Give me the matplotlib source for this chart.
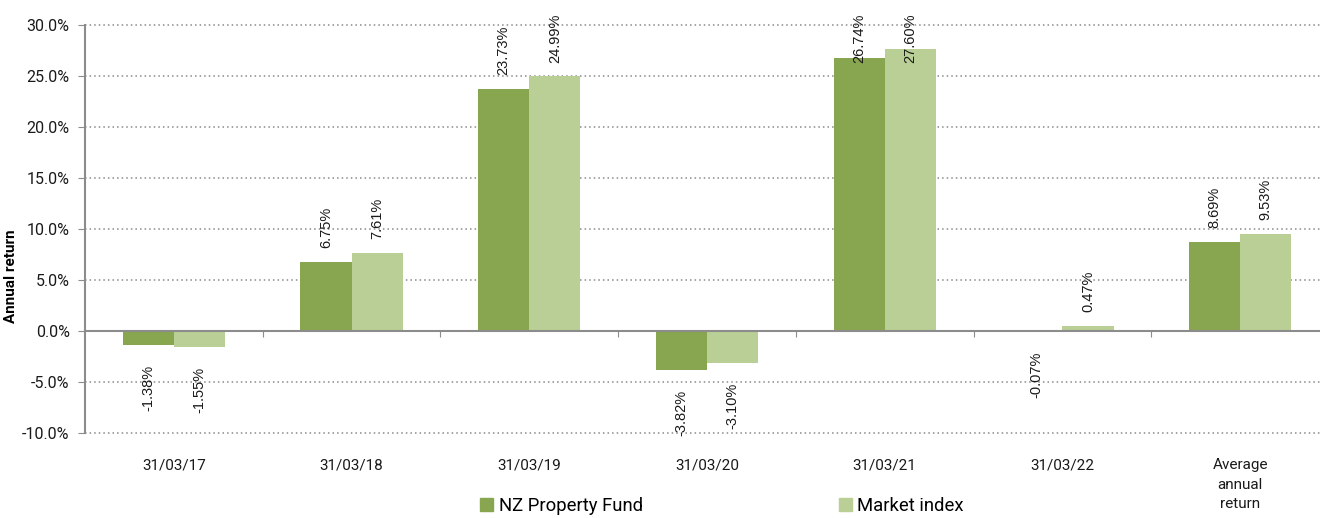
import numpy as np
import matplotlib.pyplot as plt
from matplotlib.transforms import blended_transform_factory, offset_copy
from matplotlib.patches import Patch

plt.rcParams['font.family'] = ['Roboto', 'DejaVu Sans']

categories = ['31/03/17', '31/03/18', '31/03/19', '31/03/20', '31/03/21', '31/03/22',
              'Average\nannual\nreturn']
fund = [-1.38, 6.75, 23.73, -3.82, 26.74, -0.07, 8.69]
market = [-1.55, 7.61, 24.99, -3.10, 27.60, 0.47, 9.53]
series_names = ['NZ Property Fund', 'Market index']
colors = ['#88a550', '#b9cf95']

fig = plt.figure(figsize=(13.2, 5.18), dpi=100)
ax = fig.add_axes([85 / 1320, 85 / 518, 1244 / 1320, 408 / 518])

x = np.arange(len(categories))
w = 0.288
b1 = ax.bar(x - w / 2, fund, w, color=colors[0], zorder=3)
b2 = ax.bar(x + w / 2, market, w, color=colors[1], zorder=3)

ax.set_ylim(-10, 30)
ax.set_xlim(-0.5, len(categories) - 0.5)

# rotated value labels
labels = []
for bars, vals in [(b1, fund), (b2, market)]:
    for rect, v in zip(bars, vals):
        cx = rect.get_x() + rect.get_width() / 2
        if v >= 0:
            tr = offset_copy(ax.transData, fig=fig, x=0, y=14, units='dots')
            t = ax.text(cx, v, f'{v:.2f}%', rotation=90, ha='center', va='bottom',
                        fontsize=10.5, family=['Liberation Sans'], color='#1a1a1a',
                        transform=tr, zorder=5)
            labels.append((t, cx, v))
        else:
            tr = offset_copy(ax.transData, fig=fig, x=0, y=-20, units='dots')
            ax.text(cx, v, f'{v:.2f}%', rotation=90, ha='center', va='top',
                    fontsize=10.5, family=['Liberation Sans'], color='#1a1a1a',
                    transform=tr, zorder=5)

# keep labels inside the chart area (shift tall ones down like the original)
fig.canvas.draw()
renderer = fig.canvas.get_renderer()
limit = fig.bbox.height - 14
for t, cx, v in labels:
    bb = t.get_window_extent(renderer)
    if bb.y1 > limit:
        shift = 14 - (bb.y1 - limit)
        t.set_transform(offset_copy(ax.transData, fig=fig, x=0, y=shift, units='dots'))

ax.set_yticks(np.arange(-10, 31, 5))
ax.set_yticklabels([f'{t:.1f}%' for t in np.arange(-10, 31, 5)], fontsize=11.5, color='#1a1a1a')
ax.yaxis.grid(True, linestyle=(0, (1, 2)), color='#8a8a8a', linewidth=1.1, zorder=0)
for gl in ax.get_ygridlines():
    gl.set_clip_on(False)
ax.tick_params(axis='y', length=5, color='#8c8c8c', pad=6)

# category axis sits at zero
ax.spines['bottom'].set_position(('data', 0))
ax.spines['bottom'].set_color('#8c8c8c')
ax.spines['bottom'].set_linewidth(1.5)
ax.spines['bottom'].set_zorder(4)
ax.spines['left'].set_color('#8c8c8c')
ax.spines['left'].set_linewidth(1.5)
ax.spines['top'].set_visible(False)
ax.spines['right'].set_visible(False)
ax.set_xticks(np.arange(0.5, len(categories) - 0.5, 1))
ax.set_xticklabels([])
ax.tick_params(axis='x', length=4, color='#8c8c8c', direction='out')

trans = blended_transform_factory(ax.transData, ax.transAxes)
for i, c in enumerate(categories):
    ax.text(i, -0.062, c, ha='center', va='top', fontsize=11, color='#1a1a1a',
            transform=trans, linespacing=1.5)

ax.set_ylabel('Annual return', fontsize=11, fontweight='bold')
ax.yaxis.set_label_coords(-0.054, 0.385)

handles = [Patch(color=colors[0]), Patch(color=colors[1])]
fig.legend(handles, series_names, loc='center', bbox_to_anchor=(0.547, 0.023),
           ncol=2, frameon=False, fontsize=13.3, handlelength=0.7, handleheight=0.7,
           handletextpad=0.3, columnspacing=10.6, borderpad=0.2)

fig.savefig('out.png', dpi=100)
